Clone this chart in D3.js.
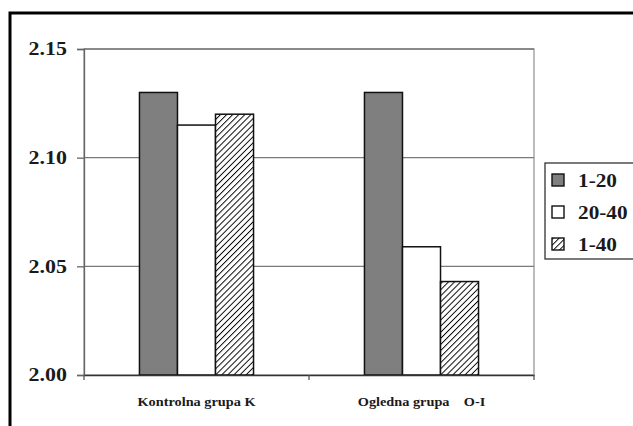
<!DOCTYPE html>
<html><head><meta charset="utf-8">
<script src="https://cdn.jsdelivr.net/npm/d3@7"></script>
<style>body{margin:0;background:#fff}svg{display:block}</style>
</head><body>
<script>
const categories = ["Kontrolna grupa K", "Ogledna grupa    O-I"];
const seriesNames = ["1-20", "20-40", "1-40"];
const s1_20 = [2.130, 2.130];
const s20_40 = [2.115, 2.059];
const s1_40 = [2.120, 2.043];
const yTicks = [2.00, 2.05, 2.10, 2.15];

const seriesVals = [s1_20, s20_40, s1_40];
const W = 633, H = 426;
const fam = "Liberation Serif";
const svg = d3.select("body").append("svg").attr("width", W).attr("height", H);
const defs = svg.append("defs");
const pat = defs.append("pattern").attr("id","hatch").attr("patternUnits","userSpaceOnUse")
  .attr("width",4.3).attr("height",4.3).attr("patternTransform","rotate(45)");
pat.append("rect").attr("width",4.3).attr("height",4.3).attr("fill","#fff");
pat.append("line").attr("x1",0).attr("y1",0).attr("x2",0).attr("y2",4.3).attr("stroke","#000").attr("stroke-width",1.9);
const fills = ["#7f7f7f", "#ffffff", "url(#hatch)"];

const L = 84, R = 534, T = 49, B = 375;
const x0 = d3.scaleBand().domain(categories).range([L, R]).paddingInner(0.493).paddingOuter(0.2465);
const x1 = d3.scaleBand().domain(seriesNames).range([0, x0.bandwidth()]);
const y = d3.scaleLinear().domain([2.00, 2.15]).range([B, T]);

// outer frame
svg.append("rect").attr("x",10).attr("y",13).attr("width",W).attr("height",H).attr("fill","none").attr("stroke","#000").attr("stroke-width",3);

// plot area border
svg.append("rect").attr("x",L).attr("y",T).attr("width",R-L).attr("height",B-T).attr("fill","none").attr("stroke","#999").attr("stroke-width",1.3);

// gridlines
svg.append("g").selectAll("line").data(yTicks.filter(d=>d>2.0)).join("line")
  .attr("x1",L).attr("x2",R).attr("y1",d=>y(d)).attr("y2",d=>y(d)).attr("stroke","#7a7a7a").attr("stroke-width",1.3);

// bars
categories.forEach((c, ci) => {
  svg.append("g").selectAll("rect").data(seriesNames).join("rect")
    .attr("x", (s)=>x0(c)+x1(s)).attr("width", x1.bandwidth())
    .attr("y", (s,i)=>y(seriesVals[i][ci])).attr("height",(s,i)=>B - y(seriesVals[i][ci]))
    .attr("fill",(s,i)=>fills[i]).attr("stroke","#111").attr("stroke-width",1.5);
});

// y axis
const ya = svg.append("g").attr("transform",`translate(${L},0)`)
  .call(d3.axisLeft(y).tickValues(yTicks).tickFormat(d3.format(".2f")).tickSize(7).tickPadding(10));
ya.attr("font-family", fam).attr("font-size", null);
ya.select(".domain").attr("stroke","#666").attr("stroke-width",1.3);
ya.selectAll(".tick line").attr("stroke","#666").attr("stroke-width",1.3);
ya.selectAll("text").attr("font-family",fam).attr("font-weight","bold").attr("font-size",18).attr("fill","#1a1a1a")
  .attr("x", -17/1.22).attr("transform","scale(1.22,1)");

// x axis
const xa = svg.append("g").attr("transform",`translate(0,${B})`)
  .call(d3.axisBottom(x0).tickSize(0).tickPadding(22));
xa.attr("font-family", fam).attr("font-size", null);
xa.select(".domain").attr("stroke","#333").attr("stroke-width",1.5);
xa.selectAll("text").attr("font-family",fam).attr("font-weight","bold").attr("font-size",13).attr("fill","#1a1a1a")
  .attr("xml:space","preserve").style("white-space","pre").attr("transform","scale(1.1,1)");
// category separator ticks
svg.append("g").selectAll("line").data([L, x0(categories[1]) - x0.step()*x0.paddingInner()/2, R]).join("line")
  .attr("x1",d=>d).attr("x2",d=>d).attr("y1",B).attr("y2",B+5).attr("stroke","#555").attr("stroke-width",1.3);

// legend
const lg = svg.append("g");
lg.append("rect").attr("x",545).attr("y",163).attr("width",100).attr("height",96).attr("fill","#fff").attr("stroke","#333").attr("stroke-width",1.3);
const ly = d3.scalePoint().domain(seriesNames).range([180, 244]);
lg.selectAll("rect.sw").data(seriesNames).join("rect").attr("class","sw")
  .attr("x",552).attr("y",d=>ly(d)-6).attr("width",12).attr("height",12)
  .attr("fill",(d,i)=>fills[i]).attr("stroke","#111").attr("stroke-width",1.4);
lg.selectAll("g.lt").data(seriesNames).join("g").attr("class","lt")
  .attr("transform", d=>`translate(578,${ly(d)+6.5}) scale(1.12,1)`)
  .append("text").text(d=>d)
  .attr("font-family",fam).attr("font-weight","bold").attr("font-size",19).attr("fill","#1a1a1a");
</script>
</body></html>
